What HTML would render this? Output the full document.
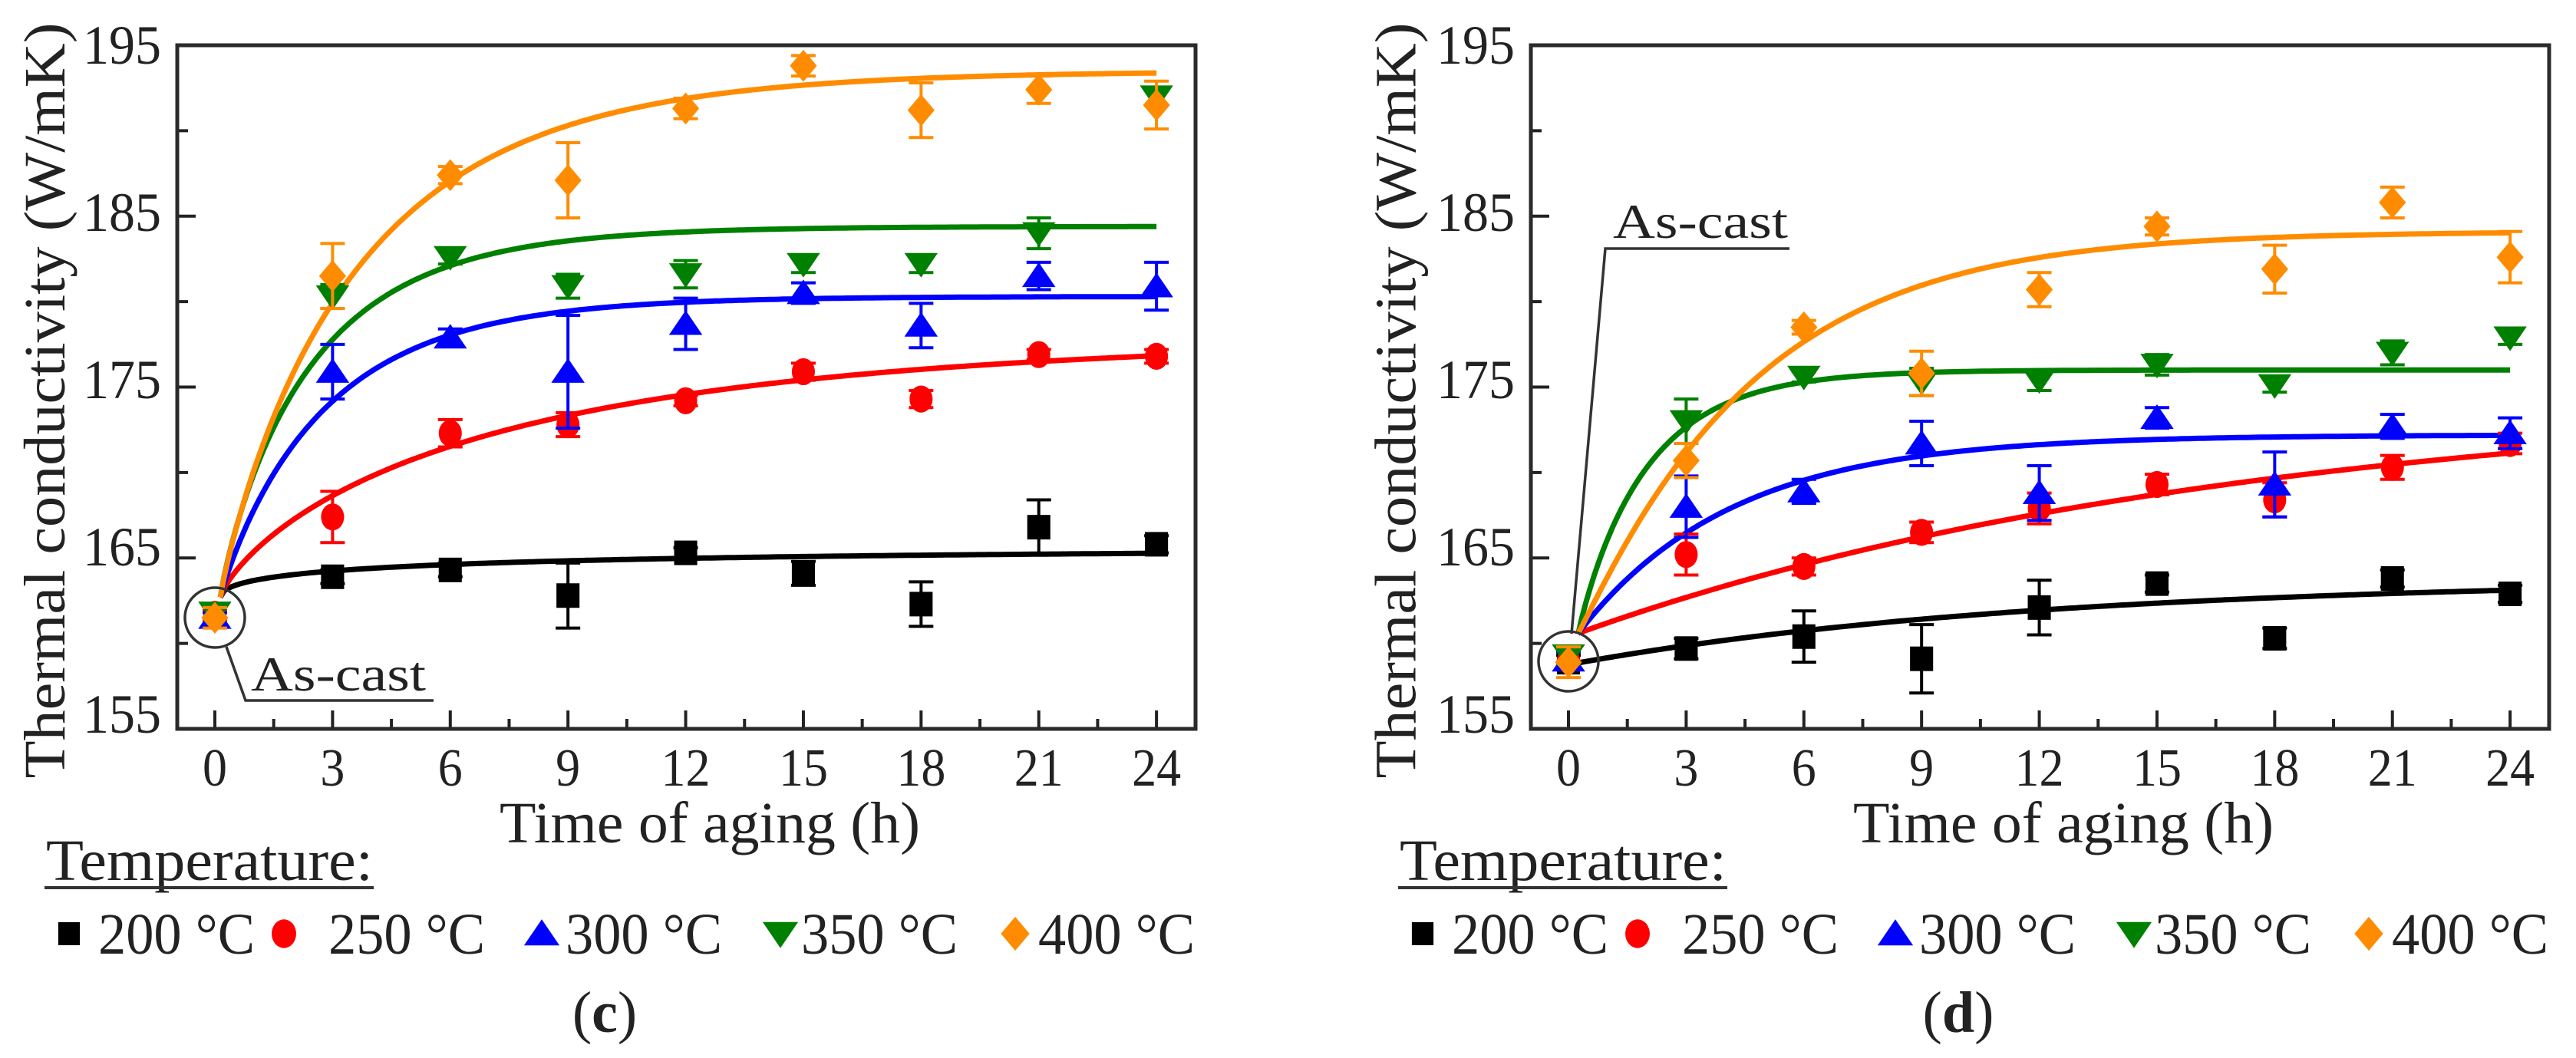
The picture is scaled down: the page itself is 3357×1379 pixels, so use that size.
<!DOCTYPE html>
<html><head><meta charset="utf-8"><style>
html,body{margin:0;padding:0;background:#fff}
svg{display:block}
text{font-family:"Liberation Serif",serif;fill:#222}
</style></head><body>
<svg id="fig" xmlns="http://www.w3.org/2000/svg" width="3357" height="1379" viewBox="0 0 3357 1379"></svg>
<script>
const hours=[0,3,6,9,12,15,18,21,24];
const yTicks=[155,165,175,185,195];
const xTicks=[0,3,6,9,12,15,18,21,24];
const seriesNames=["200 °C","250 °C","300 °C","350 °C","400 °C"];
// panel (c)
const c200=[161.7,163.9,164.3,162.8,165.3,164.1,162.3,166.8,165.8];
const c200err=[0.3,0.4,0.4,1.9,0.3,0.7,1.3,1.6,0.5];
const c250=[161.7,167.4,172.3,172.8,174.2,175.9,174.3,176.9,176.8];
const c250err=[0.3,1.5,0.8,0.7,0.3,0.5,0.5,0.3,0.4];
const c300=[161.5,175.9,177.9,175.9,178.7,180.5,178.6,181.5,180.9];
const c300err=[0.3,1.6,0.5,3.3,1.5,0.6,1.3,0.8,1.4];
const c350=[161.8,180.3,182.6,180.9,181.6,182.2,182.2,184.0,192.0];
const c350err=[0.3,0.7,0.4,0.7,0.8,0.5,0.5,0.9,0.5];
const c400=[161.5,181.5,187.4,187.1,191.3,193.8,191.2,192.4,191.5];
const c400err=[0.6,1.9,0.5,2.2,0.6,0.6,1.6,0.8,1.4];
// fit parameters (c): start time, y0, amplitude, tau, exponent
const cFitT0=[0.14,0.14,0.14,0.14,0.14];
const cFitY0=[162.7,162.7,162.7,162.7,162.7];
const cFitA=[2.9,15.3,17.6,21.7,30.8];
const cFitTau=[5,7.1,2.7,2.36,3.57];
const cFitB=[0.5,0.78,0.93,0.89,0.9];
// panel (d)
const d200=[158.9,159.7,160.4,159.1,162.1,163.5,160.3,163.8,162.9];
const d200err=[0.4,0.6,1.5,2.0,1.6,0.5,0.6,0.5,0.5];
const d250=[159.0,165.2,164.5,166.5,167.9,169.3,168.4,170.3,171.7];
const d250err=[0.5,1.2,0.5,0.6,0.9,0.6,1.0,0.7,0.6];
const d300=[159.0,168.0,168.9,171.7,168.8,173.2,169.3,172.7,172.3];
const d300err=[0.5,1.8,0.7,1.3,1.6,0.6,1.9,0.7,0.9];
const d350=[159.3,173.0,175.6,175.3,175.4,176.3,175.1,177.0,177.9];
const d350err=[0.5,1.3,0.3,0.8,0.6,0.6,0.4,0.7,0.4];
const d400=[158.9,170.7,178.5,175.8,180.7,184.4,181.9,185.8,182.6];
const d400err=[0.9,1.0,0.4,1.3,1.0,0.5,1.4,0.9,1.5];
const dFitT0=[0.1,0.25,0.25,0.25,0.25];
const dFitY0=[158.8,160.6,160.6,160.6,160.6];
const dFitA=[5,14,11.6,15.4,23.5];
const dFitTau=[12,17,3.9,1.76,4.5];
const dFitB=[1,1,1,0.95,1.05];

const colors=["#000000","#ff0000","#0000ff","#008000","#ff8c00"];
const markers=["square","circle","up","down","diamond"];
const NS="http://www.w3.org/2000/svg";
const svg=document.getElementById('fig');
function mk(tag,attrs,parent){const e=document.createElementNS(NS,tag);for(const k in attrs)e.setAttribute(k,attrs[k]);(parent||svg).appendChild(e);return e;}

function marker(g,type,cx,cy,col,s){
  let e;
  if(type==="square") e=mk('rect',{x:cx-s*0.47,y:cy-s*0.5,width:s*0.94,height:s,fill:col},g);
  else if(type==="circle") e=mk('ellipse',{cx:cx,cy:cy,rx:s*0.47,ry:s*0.55,fill:col},g);
  else if(type==="up") e=mk('polygon',{points:`${cx-s*0.68},${cy+s*0.45} ${cx+s*0.68},${cy+s*0.45} ${cx},${cy-s*0.55}`,fill:col},g);
  else if(type==="down") e=mk('polygon',{points:`${cx-s*0.68},${cy-s*0.45} ${cx+s*0.68},${cy-s*0.45} ${cx},${cy+s*0.55}`,fill:col},g);
  else e=mk('polygon',{points:`${cx},${cy-s*0.65} ${cx+s*0.55},${cy} ${cx},${cy+s*0.65} ${cx-s*0.55},${cy}`,fill:col},g);
  return e;
}

function panel(id,dx,vals,errs,ft0,fy0,fA,ftau,fb,label,asc){
  const L=231+dx, R=1558+dx, T=59, B=950;
  const x0=280+dx, pxh=51.13;
  const X=t=>x0+t*pxh;
  const Y=v=>T+(195-v)*(B-T)/40;
  const g=mk('g',{});
  
  
  for(const t of xTicks){
    const tk=mk('line',{x1:X(t),x2:X(t),y1:B,y2:B-24,stroke:'#222','stroke-width':4},g);
    
    
    if(t<24) mk('line',{x1:X(t+1.5),x2:X(t+1.5),y1:B,y2:B-13,stroke:'#222','stroke-width':4},g);
    const lb=mk('text',{x:X(t),y:1024,'font-size':70,'text-anchor':'middle',textLength:t>=10?64:32,lengthAdjust:'spacingAndGlyphs'},g);
    lb.textContent=t;
    
    
  }
  for(const v of yTicks){
    const y=Y(v);
    mk('line',{x1:L,x2:L+24,y1:y,y2:y,stroke:'#222','stroke-width':4},g);
    if(v<195) mk('line',{x1:L,x2:L+14,y1:Y(v+5),y2:Y(v+5),stroke:'#222','stroke-width':4},g);
    const lb=mk('text',{x:L-21,y:y+24-(195-v)/40*19,'font-size':72,'text-anchor':'end',textLength:102,lengthAdjust:'spacingAndGlyphs'},g);
    lb.textContent=v;
    
    
  }
  const box=mk('rect',{x:L,y:T,width:R-L,height:B-T,fill:'none',stroke:'#2a2a2a','stroke-width':5},g);
  
  
  const yt=mk('text',{x:0,y:0,'font-size':76,'text-anchor':'middle',textLength:985,lengthAdjust:'spacingAndGlyphs',transform:`translate(${84+dx*0.998},${522}) rotate(-90)`},g);
  yt.textContent='Thermal conductivity (W/mK)';
  
  
  const xt=mk('text',{x:925+dx,y:1098,'font-size':76,'text-anchor':'middle',textLength:548,lengthAdjust:'spacingAndGlyphs'},g);
  xt.textContent='Time of aging (h)';
  
  
  for(let s=0;s<5;s++){
    let d='';
    for(let i=0;i<=240;i++){
      const t=ft0[s]+(24-ft0[s])*i/240;
      const v=fy0[s]+fA[s]*(1-Math.exp(-Math.pow((t-ft0[s])/ftau[s],fb[s])));
      d+=(i?'L':'M')+X(t).toFixed(1)+','+Y(v).toFixed(1);
    }
    const p=mk('path',{d:d,fill:'none',stroke:colors[s],'stroke-width':7,'stroke-linejoin':'round'},g);
    
    
  }
  for(let s=0;s<5;s++){
    const sg=mk('g',{},g);
    
    
    hours.forEach((t,i)=>{
      const cx=X(t), v=vals[s][i], e=errs[s][i];
      const y1=Y(v+e), y2=Y(v-e);
      mk('line',{x1:cx,x2:cx,y1:y1,y2:y2,stroke:colors[s],'stroke-width':4},sg);
      mk('line',{x1:cx-16,x2:cx+16,y1:y1,y2:y1,stroke:colors[s],'stroke-width':4},sg);
      mk('line',{x1:cx-16,x2:cx+16,y1:y2,y2:y2,stroke:colors[s],'stroke-width':4},sg);
      const m=marker(sg,markers[s],cx,Y(v),colors[s],32);
      
      
    });
  }
  const ag=mk('g',{},g);
  
  
  mk('ellipse',{cx:asc.cx,cy:asc.cy,rx:39,ry:39,fill:'none',stroke:'#333','stroke-width':3.5},ag);
  mk('polyline',{points:asc.line,fill:'none',stroke:'#333','stroke-width':3.5},ag);
  const at=mk('text',{x:asc.tx,y:asc.ty,'font-size':64,textLength:228,lengthAdjust:'spacingAndGlyphs'},ag);
  at.textContent='As-cast';
  const lg=mk('g',{},g);
  
  
  const tt=mk('text',{x:60+dx,y:1147,'font-size':76,textLength:426,lengthAdjust:'spacingAndGlyphs'},lg);
  tt.textContent='Temperature:';
  mk('line',{x1:58+dx,x2:487+dx,y1:1157,y2:1157,stroke:'#333','stroke-width':4},lg);
  const mx=[90,370,706,1017,1323], tx=[128,428,737,1044,1353];
  for(let s=0;s<5;s++){
    const m=marker(lg,markers[s],mx[s]+dx,1217,colors[s],s===0?30:34);
    
    
    const lt=mk('text',{x:tx[s]+dx,y:1243,'font-size':76,textLength:204,lengthAdjust:'spacingAndGlyphs'},lg);
    lt.textContent=seriesNames[s];
    
    
  }
  const pl=mk('text',{x:788+dx,y:1345,'font-size':76,'text-anchor':'middle'},g);
  pl.textContent='(';
  const b=mk('tspan',{'font-weight':'bold'},pl); b.textContent=label;
  const c2=mk('tspan',{},pl); c2.textContent=')';
  
  
}
panel('c',0,[c200,c250,c300,c350,c400],[c200err,c250err,c300err,c350err,c400err],cFitT0,cFitY0,cFitA,cFitTau,cFitB,'c',
  {cx:280,cy:805,line:'295,843 320,913 565,913',tx:327,ty:900});
panel('d',1764,[d200,d250,d300,d350,d400],[d200err,d250err,d300err,d350err,d400err],dFitT0,dFitY0,dFitA,dFitTau,dFitB,'d',
  {cx:2044,cy:862,line:'2048,826 2092,324 2332,324',tx:2102,ty:310});
</script>
</body></html>
